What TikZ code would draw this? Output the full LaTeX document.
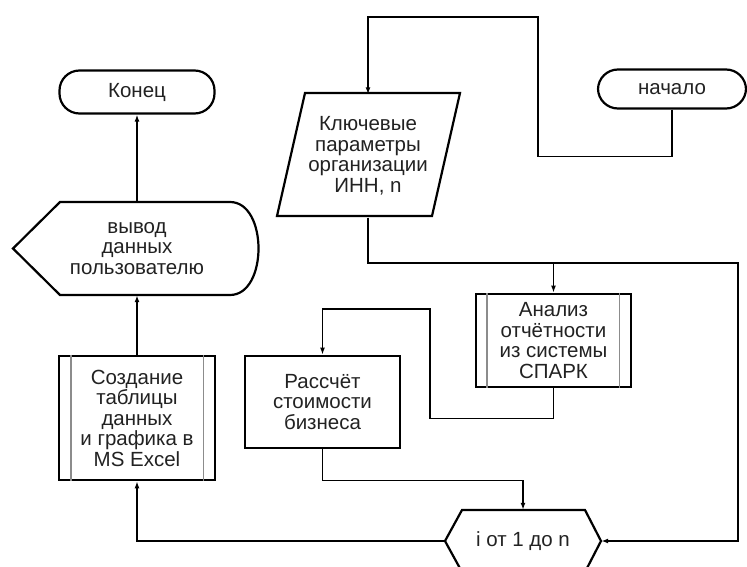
\documentclass[tikz,border=0pt]{standalone}
\usepackage{fontspec}
\setmainfont{Liberation Sans}
\usetikzlibrary{arrows.meta}
\definecolor{txt}{HTML}{222222}
\tikzset{
  lbl/.style={inner sep=0pt, align=center, text=txt, font=\fontsize{20.5}{20.5}\selectfont},
  term/.style={lbl, draw, line width=2.2pt, rounded corners=20pt},
  proc/.style={lbl, draw, line width=2.8pt},
  innerline/.style={draw=black!45, line width=1.8pt},
  shapeline/.style={draw, line width=2.2pt, line join=miter},
  arr/.style={line width=1.8pt, -{Latex[length=7pt,width=5pt]}},
}
\begin{document}
\begin{tikzpicture}[x=1pt,y=-1pt]
\useasboundingbox (0,0) rectangle (747,567);
\clip (0,0) rectangle (747,567);
\fill[white] (0,0) rectangle (747,567);

% terminals
\node[term, minimum width=155pt, minimum height=43pt] (konec) at (137,92) {Конец};
\node[term, minimum width=148pt, minimum height=39pt] (nachalo) at (672,89) {начало};

% display (output)
\node[lbl, minimum width=245pt, minimum height=93pt] (vyvod) at (137,248.5) {вывод\\данных\\пользователю};
\draw[shapeline] (13,248.5) -- (60,202) -- (230,202) .. controls (268,202) and (268,295) .. (230,295) -- (60,295) -- cycle;

% input parallelogram
\node[lbl, minimum width=155pt, minimum height=123pt] (kluch) at (368,156) {Ключевые\\параметры\\организации\\ИНН, n};
\draw[shapeline] (305,93) -- (460,93) -- (432,216) -- (277,216) -- cycle;

% subprocesses
\node[proc, minimum width=156pt, minimum height=124pt] (sozd) at (137,418) {Создание\\таблицы\\данных\\и графика в\\MS Excel};
\draw[innerline] ([xshift=13pt]sozd.north west) -- ([xshift=13pt]sozd.south west);
\draw[innerline] ([xshift=-13pt]sozd.north east) -- ([xshift=-13pt]sozd.south east);

\node[proc, minimum width=155pt, minimum height=93pt] (analiz) at (553.5,340.5) {Анализ\\отчётности\\из системы\\СПАРК};
\draw[innerline] ([xshift=12pt]analiz.north west) -- ([xshift=12pt]analiz.south west);
\draw[innerline] ([xshift=-13pt]analiz.north east) -- ([xshift=-13pt]analiz.south east);

% process
\node[proc, minimum width=155pt, minimum height=92pt] (rasch) at (322.5,402) {Рассчёт\\стоимости\\бизнеса};

% loop hexagon
\node[lbl, minimum width=156pt, minimum height=62pt] (hex) at (523,541) {i от 1 до n};
\draw[shapeline] (445,541) -- (462,510) -- (585,510) -- (601,541) -- (585,572) -- (462,572) -- cycle;

% connectors
\draw[arr] (nachalo.south) -- ++(0,47) -| (538,17) -| (kluch.north);
\draw[arr] (kluch.south) |- (738,263) |- (hex.east);
\draw[arr] (analiz.north |- 0,263) -- (analiz.north);
\draw[arr] (analiz.south) -- ++(0,30) -| (430,309) -| (rasch.north);
\draw[arr] (rasch.south) -- ++(0,31) -| (hex.north);
\draw[arr] (hex.west) -| (sozd.south);
\draw[arr] (sozd.north) -- (vyvod.south);
\draw[arr] (vyvod.north) -- (konec.south);
\end{tikzpicture}
\end{document}
